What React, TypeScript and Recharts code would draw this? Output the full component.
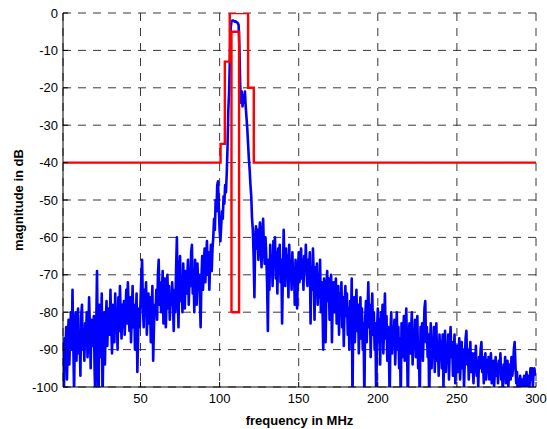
import React from 'react';
import { LineChart, Line, XAxis, YAxis, CartesianGrid } from 'recharts';

// Frequency grid of the measured spectrum (MHz)
const FREQ_START = 1;
const FREQ_STEP = 0.5;

// Measured spectrum (dB), 1.0 .. 99.5 MHz
const SPECTRUM_LOW = [
  -88, -104, -87, -92, -84, -98, -89, -82, -94, -86, -80, -90, -74, -88, -102, -85, -80, -93,
  -84, -79, -91, -86, -97, -81, -78, -90, -85, -93, -83, -88, -80, -92, -86, -76, -84, -95, -82, -89,
  -87, -81, -96, -104, -84, -69, -90, -104, -78, -92, -86, -75, -104, -88, -80, -94, -83, -77, -89, -82,
  -79, -86, -74, -84, -91, -78, -82, -88, -75, -83, -80, -90, -76, -85, -73, -81, -87, -78, -84, -77,
  -86, -80, -74, -83, -72, -79, -85, -76, -88, -81, -73, -84, -78, -90, -82, -75, -96, -86, -79, -84,
  -77, -71, -66, -78, -84, -74, -80, -72, -86, -79, -75, -83, -76, -88, -81, -73, -93, -84, -78, -80,
  -74, -82, -70, -66, -78, -72, -80, -75, -69, -83, -77, -71, -84, -76, -70, -79, -73, -82, -75, -78,
  -72, -78, -85, -74, -80, -68, -60, -76, -84, -70, -65, -77, -72, -80, -67, -74, -79, -69, -75, -71,
  -66, -78, -70, -73, -64, -62, -75, -69, -80, -66, -72, -78, -67, -74, -70, -76, -84, -71, -65, -74,
  -68, -63, -72, -66, -61, -70, -64, -74, -67, -62, -69, -63, -60, -55, -58, -50, -53, -46, -45, -52,
];

// Measured spectrum (dB), 100.0 .. 129.5 MHz (signal band)
const SPECTRUM_BAND = [
  -58, -61, -57, -53, -55, -49, -51, -46, -48, -43, -36, -26, -21, -12, -4, -2.3, -2, -2, -2.1, -2.3,
  -2.2, -2.4, -2.5, -2.7, -3.2, -9, -19, -24, -21, -25, -22, -24, -21, -25, -28, -31, -35, -39, -42, -46,
  -49, -55, -58, -65, -76, -60, -57, -63, -58, -66, -60, -56, -62, -68, -59, -55, -63, -67, -60, -65,
];

// Measured spectrum (dB), 130.0 .. 299.5 MHz
const SPECTRUM_HIGH = [
  -72, -85, -66, -74, -62, -70, -65, -73, -61, -68, -60, -71, -64, -75, -63, -69, -62, -72, -66, -83,
  -70, -58, -67, -73, -63, -70, -65, -76, -62, -71, -67, -74, -64, -72, -68, -78, -66, -71, -79, -69,
  -64, -72, -67, -63, -71, -66, -74, -65, -69, -62, -70, -73, -66, -71, -64, -83, -68, -74, -63, -70,
  -82, -68, -74, -67, -78, -70, -76, -66, -80, -72, -77, -90, -71, -79, -88, -73, -69, -77, -71, -82,
  -74, -70, -88, -76, -72, -80, -74, -71, -83, -77, -73, -86, -75, -80, -72, -84, -76, -89, -78, -73,
  -81, -75, -86, -79, -90, -77, -84, -71, -104, -80, -76, -88, -79, -74, -85, -78, -91, -81, -76, -87,
  -79, -90, -83, -104, -82, -77, -88, -80, -72, -84, -78, -92, -81, -75, -86, -80, -90, -83, -104, -85,
  -79, -88, -82, -94, -80, -86, -78, -91, -83, -75, -87, -81, -93, -84, -89, -104, -85, -80, -91, -84,
  -88, -82, -94, -86, -80, -90, -84, -95, -87, -104, -83, -92, -86, -81, -93, -85, -79, -90, -104, -87,
  -83, -91, -86, -80, -94, -85, -89, -82, -92, -86, -81, -95, -88, -104, -84, -90, -83, -93, -86, -79,
  -77, -88, -84, -92, -86, -104, -89, -83, -95, -87, -91, -84, -96, -88, -83, -93, -89, -97, -86, -92,
  -88, -95, -86, -100, -90, -85, -96, -89, -93, -86, -98, -90, -84, -92, -88, -97, -91, -86, -99, -93,
  -89, -96, -91, -87, -98, -92, -88, -95, -90, -100, -93, -87, -85, -94, -90, -98, -92, -88, -96, -91,
  -94, -99, -91, -96, -89, -97, -93, -100, -92, -95, -90, -88, -96, -92, -99, -94, -91, -98, -93, -96,
  -92, -98, -94, -91, -99, -95, -93, -100, -96, -92, -97, -94, -99, -93, -96, -91, -98, -95, -102, -94,
  -96, -92, -99, -95, -93, -100, -96, -94, -98, -92, -97, -95, -90, -88, -94, -99, -96, -102, -98, -100,
  -97, -100, -98, -102, -99, -97, -101, -98, -96, -100, -97, -102, -99, -95, -98, -95, -100, -96, -95, -97,
];

// Spectral mask (outer)
const MASK_F = [1, 100.6, 100.6, 103.3, 103.3, 106.4, 106.4, 118.0, 118.0, 121.6, 121.6, 300];
const MASK_DB = [-40, -40, -35, -35, -13, -13, 0, 0, -20, -20, -40, -40];

// Spectral mask (inner notch)
const INNER_F = [107.5, 107.5, 112.3, 112.3, 107.5];
const INNER_DB = [-80, -5, -5, -80, -80];

// Axes
const X_DOMAIN = [1, 300];
const X_TICKS = [50, 100, 150, 200, 250, 300];
const Y_DOMAIN = [-100, 0];
const Y_TICKS = [-100, -90, -80, -70, -60, -50, -40, -30, -20, -10, 0];

const spectrum = [...SPECTRUM_LOW, ...SPECTRUM_BAND, ...SPECTRUM_HIGH].map((v, i) => ({
  f: FREQ_START + i * FREQ_STEP,
  db: v,
}));
const mask = MASK_F.map((f, i) => ({ f, db: MASK_DB[i] }));
const inner = INNER_F.map((f, i) => ({ f, db: INNER_DB[i] }));

const FONT = '"Liberation Sans", Arial, Helvetica, sans-serif';
const TICK_SIZE = 5;
const X_TICK_MARGIN = 6;
const INNER_LEN = 5;

const LeftTick = (props: any) => {
  const { x, y, payload } = props;
  const ax = x + TICK_SIZE;
  return (
    <g>
      <line x1={ax} y1={y} x2={ax + INNER_LEN} y2={y} stroke="#000" strokeWidth={1} />
      <text x={x} y={y} textAnchor="end" dominantBaseline="central" fontSize={13} fontFamily={FONT} fill="#000">
        {payload.value}
      </text>
    </g>
  );
};

const BottomTick = (props: any) => {
  const { x, y, payload } = props;
  const ay = y - TICK_SIZE - X_TICK_MARGIN;
  return (
    <g>
      <line x1={x} y1={ay} x2={x} y2={ay - INNER_LEN} stroke="#000" strokeWidth={1} />
      <text x={x} y={y} textAnchor="middle" dominantBaseline="central" fontSize={13} fontFamily={FONT} fill="#000">
        {payload.value}
      </text>
    </g>
  );
};

const TopTick = (props: any) => {
  const { x, y } = props;
  const ay = y + TICK_SIZE;
  return <line x1={x} y1={ay} x2={x} y2={ay + INNER_LEN} stroke="#000" strokeWidth={1} />;
};

const RightTick = (props: any) => {
  const { x, y } = props;
  const ax = x - TICK_SIZE;
  return <line x1={ax} y1={y} x2={ax - INNER_LEN} y2={y} stroke="#000" strokeWidth={1} />;
};

const XLabel = (props: any) => {
  const vb = props.viewBox || { x: 63, y: 387, width: 473, height: 42 };
  return (
    <text
      x={vb.x + vb.width / 2}
      y={vb.y + 38}
      textAnchor="middle"
      fontSize={13}
      fontWeight="bold"
      fontFamily={FONT}
      fill="#000"
    >
      frequency in MHz
    </text>
  );
};

const YLabel = (props: any) => {
  const vb = props.viewBox || { x: 0, y: 13, width: 63, height: 374 };
  const cx = vb.x + 18;
  const cy = vb.y + vb.height / 2;
  return (
    <text
      x={cx}
      y={cy}
      transform={`rotate(-90, ${cx}, ${cy})`}
      textAnchor="middle"
      dominantBaseline="central"
      fontSize={13}
      fontWeight="bold"
      fontFamily={FONT}
      fill="#000"
    >
      magnitude in dB
    </text>
  );
};

export default function App() {
  return (
    <div style={{ position: 'absolute', left: 0, top: 0, width: 547, height: 429, background: '#fff' }}>
      <LineChart width={547} height={429} margin={{ top: 13, right: 11, bottom: 0, left: 0 }}>
        <CartesianGrid stroke="#222" strokeWidth={0.9} strokeDasharray="8 7" />
        <XAxis
          xAxisId={0}
          type="number"
          dataKey="f"
          domain={X_DOMAIN}
          ticks={X_TICKS}
          allowDataOverflow
          height={42}
          tickSize={TICK_SIZE}
          tickMargin={X_TICK_MARGIN}
          tickLine={false}
          axisLine={{ stroke: '#000', strokeWidth: 1 }}
          tick={<BottomTick />}
          interval={0}
          label={<XLabel />}
        />
        <XAxis
          xAxisId="top"
          orientation="top"
          type="number"
          dataKey="f"
          domain={X_DOMAIN}
          ticks={X_TICKS}
          allowDataOverflow
          height={0}
          tickSize={TICK_SIZE}
          tickMargin={0}
          tickLine={false}
          axisLine={{ stroke: '#000', strokeWidth: 1 }}
          tick={<TopTick />}
          interval={0}
        />
        <YAxis
          yAxisId={0}
          type="number"
          domain={Y_DOMAIN}
          ticks={Y_TICKS}
          allowDataOverflow
          width={63}
          tickSize={TICK_SIZE}
          tickMargin={0}
          tickLine={false}
          axisLine={{ stroke: '#000', strokeWidth: 1 }}
          tick={<LeftTick />}
          interval={0}
          label={<YLabel />}
        />
        <YAxis
          yAxisId="right"
          orientation="right"
          type="number"
          domain={Y_DOMAIN}
          ticks={Y_TICKS}
          allowDataOverflow
          width={0}
          tickSize={TICK_SIZE}
          tickMargin={0}
          tickLine={false}
          axisLine={{ stroke: '#000', strokeWidth: 1 }}
          tick={<RightTick />}
          interval={0}
        />
        <Line
          data={spectrum}
          dataKey="db"
          type="linear"
          stroke="#0000ff"
          strokeWidth={2.6}
          strokeLinejoin="round"
          dot={false}
          isAnimationActive={false}
        />
        <Line
          data={mask}
          dataKey="db"
          type="linear"
          stroke="#ff0000"
          strokeWidth={2.4}
          dot={false}
          isAnimationActive={false}
        />
        <Line
          data={inner}
          dataKey="db"
          type="linear"
          stroke="#ff0000"
          strokeWidth={2.4}
          dot={false}
          isAnimationActive={false}
        />
      </LineChart>
    </div>
  );
}
